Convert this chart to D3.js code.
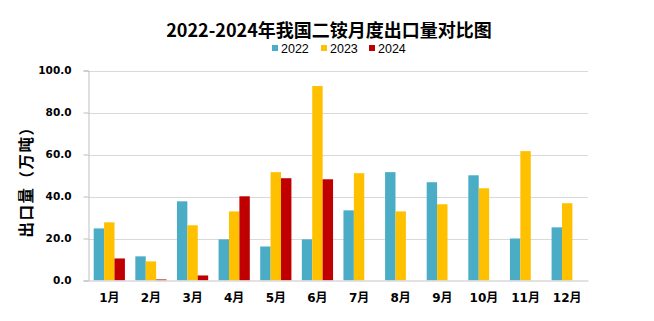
<!DOCTYPE html>
<html><head><meta charset="utf-8">
<script src="https://cdn.jsdelivr.net/npm/d3@7"></script>
<style>body{margin:0;background:#fff}</style>
</head><body>
<svg id="c" width="654" height="321"></svg>
<script>
const months = ["1月","2月","3月","4月","5月","6月","7月","8月","9月","10月","11月","12月"];
const seriesNames = ["2022","2023","2024"];
const v2022 = [24.8,11.5,37.7,19.6,16.2,19.6,33.4,51.6,46.8,50.1,20.0,25.3];
const v2023 = [27.7,9.1,26.3,32.9,51.6,92.6,51.1,32.9,36.3,43.9,61.6,36.8];
const v2024 = [10.5,0.5,2.4,40.1,48.7,48.2,null,null,null,null,null,null];
const yTicks = [0,20,40,60,80,100];
const colors = ["#4BACC6","#FFC000","#C00000"];

const svg = d3.select("#c");
const L = 88.5, R = 588, T = 70.5, B = 280.5;
const x0 = d3.scaleBand().domain(months).range([L, R]).padding(0);
const bw = x0.bandwidth();
const x1 = d3.scaleBand().domain(seriesNames).range([bw/8, bw - bw/8]).padding(0);
const y = d3.scaleLinear().domain([0,100]).range([B, T]);

// gridlines
svg.append("g").selectAll("line").data(yTicks.filter(d=>d>0)).join("line")
  .attr("x1", L).attr("x2", R).attr("y1", d=>Math.round(y(d))+0.5).attr("y2", d=>Math.round(y(d))+0.5)
  .attr("stroke","#D9D9D9").attr("stroke-width",1);

// bars
const data = [v2022, v2023, v2024];
const g = svg.append("g");
seriesNames.forEach((s, si) => {
  g.append("g").selectAll("rect").data(months.map((m,i)=>({m, v:data[si][i]})).filter(d=>d.v!=null)).join("rect")
    .attr("x", d => x0(d.m) + x1(s))
    .attr("width", x1.bandwidth())
    .attr("y", d => y(d.v))
    .attr("height", d => y(0) - y(d.v))
    .attr("fill", colors[si]);
});

// y axis
const yAxis = d3.axisLeft(y).tickValues(yTicks).tickFormat(d3.format(".1f")).tickSize(5).tickPadding(12);
const ya = svg.append("g").attr("transform", `translate(${L},0)`).call(yAxis);
ya.select(".domain").attr("stroke","#BFBFBF");
ya.selectAll(".tick line").attr("stroke","#BFBFBF");
ya.selectAll(".tick text").attr("font-family","Tahoma, 'DejaVu Sans', sans-serif").attr("font-weight","bold")
  .attr("font-size","10.5px").attr("fill","#000");

// x axis
const xAxis = d3.axisBottom(x0).tickSize(0).tickPadding(13);
const xa = svg.append("g").attr("transform", `translate(0,${B})`).call(xAxis);
xa.select(".domain").attr("stroke","#D9D9D9").attr("stroke-width",1.5);
xa.selectAll(".tick text").attr("font-family","'DejaVu Sans', 'Noto Sans CJK SC', sans-serif").attr("font-weight","bold")
  .attr("font-size","12px").attr("fill","#000");

// title
svg.append("text").attr("x", 329).attr("y", 37).attr("text-anchor","middle")
  .attr("font-family","'Noto Sans CJK SC', sans-serif").attr("font-weight","bold").attr("font-size","18px")
  .attr("fill","#000").text("2022-2024年我国二铵月度出口量对比图");

// y title
svg.append("text").attr("transform","translate(32,178) rotate(-90)").attr("text-anchor","middle")
  .attr("font-family","'Noto Sans CJK SC', sans-serif").attr("font-weight","bold").attr("font-size","15.5px")
  .attr("letter-spacing","1.5px")
  .attr("fill","#000").text("出口量（万吨）");

// legend
const lx = [272, 321, 369];
const lg = svg.append("g");
seriesNames.forEach((s, i) => {
  lg.append("rect").attr("x", lx[i]).attr("y", 45).attr("width", 6).attr("height", 6).attr("fill", colors[i]);
  lg.append("text").attr("x", lx[i] + 9).attr("y", 52.5)
    .attr("font-family","'Liberation Sans', Arial, sans-serif").attr("font-size","12.5px").attr("fill","#000").text(s);
});
</script>
</body></html>
